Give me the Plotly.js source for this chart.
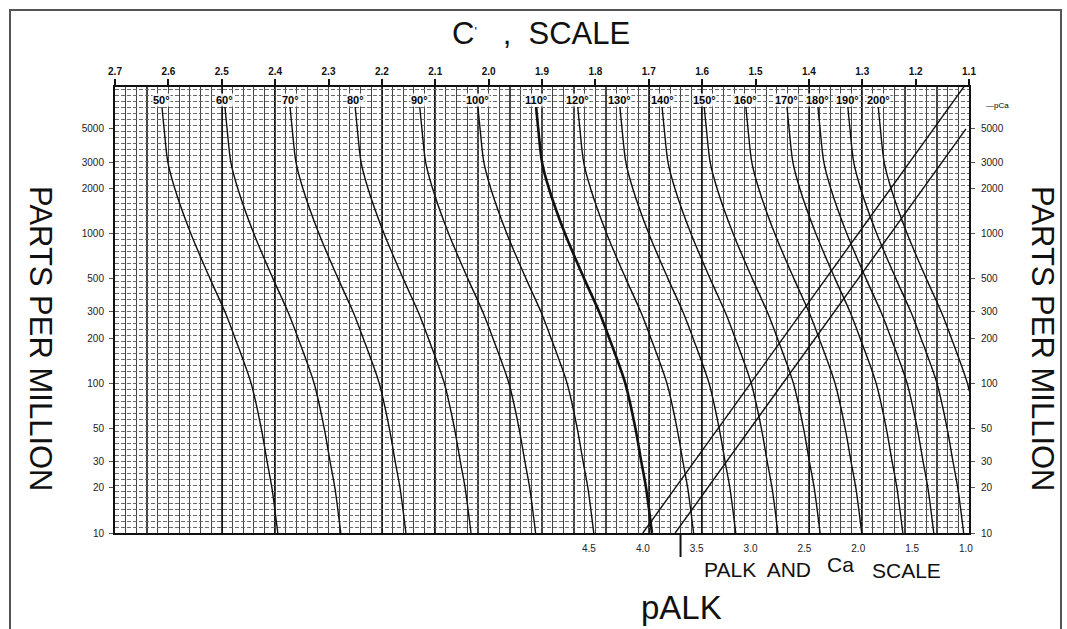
<!DOCTYPE html>
<html>
<head>
<meta charset="utf-8">
<script src="https://cdn.plot.ly/plotly-3.0.1.min.js"></script>
<style>html,body{margin:0;padding:0;background:#fff;}#chart{width:1067px;height:629px;}</style>
</head>
<body>
<div id="chart"></div>
<script>
const ppm = [7000, 5000, 3000, 2000, 1000, 500, 300, 200, 100, 50, 30, 20, 10];
const tempLabels = ['50°','60°','70°','80°','90°','100°','110°','120°','130°','140°','150°','160°','170°','180°','190°','200°'];
const c50  = [2.612, 2.608, 2.601, 2.588, 2.558, 2.522, 2.494, 2.475, 2.445, 2.426, 2.415, 2.406, 2.395];
const c60  = [2.494, 2.490, 2.483, 2.470, 2.440, 2.404, 2.376, 2.357, 2.327, 2.308, 2.297, 2.288, 2.277];
const c70  = [2.372, 2.368, 2.361, 2.348, 2.318, 2.282, 2.254, 2.235, 2.205, 2.186, 2.175, 2.166, 2.155];
const c80  = [2.250, 2.246, 2.239, 2.226, 2.196, 2.160, 2.132, 2.113, 2.083, 2.064, 2.053, 2.044, 2.033];
const c90  = [2.129, 2.125, 2.118, 2.105, 2.075, 2.039, 2.011, 1.992, 1.962, 1.943, 1.932, 1.923, 1.912];
const c100 = [2.020, 2.016, 2.009, 1.996, 1.966, 1.930, 1.902, 1.883, 1.853, 1.834, 1.823, 1.814, 1.803];
const c110 = [1.911, 1.907, 1.900, 1.887, 1.857, 1.821, 1.793, 1.774, 1.744, 1.725, 1.714, 1.705, 1.694];
const c120 = [1.833, 1.829, 1.822, 1.809, 1.779, 1.743, 1.715, 1.696, 1.666, 1.647, 1.636, 1.627, 1.616];
const c130 = [1.754, 1.750, 1.743, 1.730, 1.700, 1.664, 1.636, 1.617, 1.587, 1.568, 1.557, 1.548, 1.537];
const c140 = [1.675, 1.671, 1.664, 1.651, 1.621, 1.585, 1.557, 1.538, 1.508, 1.489, 1.478, 1.469, 1.458];
const c150 = [1.596, 1.592, 1.585, 1.572, 1.542, 1.506, 1.478, 1.459, 1.429, 1.410, 1.399, 1.390, 1.379];
const c160 = [1.518, 1.514, 1.507, 1.494, 1.464, 1.428, 1.400, 1.381, 1.351, 1.332, 1.321, 1.312, 1.301];
const c170 = [1.441, 1.437, 1.430, 1.417, 1.387, 1.351, 1.323, 1.304, 1.274, 1.255, 1.244, 1.235, 1.224];
const c180 = [1.383, 1.379, 1.372, 1.359, 1.329, 1.293, 1.265, 1.246, 1.216, 1.197, 1.186, 1.177, 1.166];
const c190 = [1.327, 1.323, 1.316, 1.303, 1.273, 1.237, 1.209, 1.190, 1.160, 1.141, 1.130, 1.121, 1.110];
const c200 = [1.270, 1.266, 1.259, 1.246, 1.216, 1.180, 1.152, 1.133, 1.103, 1.084, 1.073, 1.064, 1.053];
const cCurves = [c50,c60,c70,c80,c90,c100,c110,c120,c130,c140,c150,c160,c170,c180,c190,c200];
const boldCurve = '110°';

// pCa and pALK reference lines (p value vs ppm)
const pCaP = [4.0, 1.0];
const pCaPpm = [10, 10000];
const pAlkP = [3.7, 1.0];
const pAlkPpm = [10, 5000];
const pMarker = 3.65;

// tick labels
const cTicks = [2.7,2.6,2.5,2.4,2.3,2.2,2.1,2.0,1.9,1.8,1.7,1.6,1.5,1.4,1.3,1.2,1.1];
const cTickText = ['2.7','2.6','2.5','2.4','2.3','2.2','2.1','2.0','1.9','1.8','1.7','1.6','1.5','1.4','1.3','1.2','1.1'];
const pTicks = [4.5,4.0,3.5,3.0,2.5,2.0,1.5,1.0];
const pTickText = ['4.5','4.0','3.5','3.0','2.5','2.0','1.5','1.0'];
const ppmTicks = [10,20,30,50,100,200,300,500,1000,2000,3000,5000];
const ppmTickText = ['10','20','30','50','100','200','300','500','1000','2000','3000','5000'];

// ---- build ----
const ink = '#111';
const traces = [];
cCurves.forEach((c, i) => {
  traces.push({
    x: c, y: ppm, xaxis: 'x2', yaxis: 'y', type: 'scatter', mode: 'lines',
    line: {color: ink, width: tempLabels[i] === boldCurve ? 2.6 : 1.4, shape: 'spline', smoothing: 0.8},
    hoverinfo: 'skip', showlegend: false
  });
});
traces.push({x: pCaP, y: pCaPpm, xaxis: 'x', yaxis: 'y', mode: 'lines',
  line: {color: ink, width: 1.4}, hoverinfo: 'skip', showlegend: false});
traces.push({x: pAlkP, y: pAlkPpm, xaxis: 'x', yaxis: 'y', mode: 'lines',
  line: {color: ink, width: 1.4}, hoverinfo: 'skip', showlegend: false});
// dummy traces to register grid / right axes
traces.push({x: [null], y: [null], xaxis: 'x3', yaxis: 'y3', mode: 'lines', showlegend: false, hoverinfo: 'skip'});
traces.push({x: [null], y: [null], xaxis: 'x', yaxis: 'y2', mode: 'lines', showlegend: false, hoverinfo: 'skip'});

const W = 1067, H = 629, L = 115, R = 969, T = 87, B = 533;
const px = v => (v - L) / (R - L);
const py = v => (B - v) / (B - T);

const FAM = 'Liberation Sans, Arial, sans-serif';
const tickFont = {family: FAM, size: 10, color: '#222'};
const logRange = [1, 3.979];

const annotations = [];
cCurves.forEach((c, i) => {
  annotations.push({x: c[0], y: py(100), xref: 'x2', yref: 'paper', text: tempLabels[i],
    showarrow: false, font: {family: FAM, size: 11, color: '#000', weight: 'bold'},
    bgcolor: 'rgba(255,255,255,0.85)', borderpad: 0, xanchor: 'center', yanchor: 'middle'});
});
const bigFont = s => ({family: FAM, size: s, color: ink});
const txt = (x, y, text, size, extra) => Object.assign({x: px(x), y: py(y), xref: 'paper', yref: 'paper', text: text,
  showarrow: false, font: bigFont(size), xanchor: 'center', yanchor: 'middle'}, extra || {});
annotations.push(
  txt(541, 33, "C<span style=\"font-size:18px\"><sup>'</sup></span>   ,  SCALE", 31),
  txt(41, 339, 'PARTS PER MILLION', 31, {textangle: 90}),
  txt(1043, 339, 'PARTS PER MILLION', 31, {textangle: 90}),
  txt(757, 569, 'PALK  AND', 21),
  txt(840, 564, 'Ca', 21),
  txt(906, 570, 'SCALE', 21),
  txt(681, 607, 'pALK', 33),
  txt(997, 105, '—pCa', 8, {font: {family: FAM, size: 8, color: '#000'}})
);

const layout = {
  width: W, height: H,
  margin: {l: L, r: W - R, t: T, b: H - B, pad: 0},
  paper_bgcolor: '#fff', plot_bgcolor: '#fff',
  showlegend: false,
  xaxis: {range: [8.90, 0.972], tickmode: 'array', tickvals: pTicks, ticktext: pTickText,
    showgrid: false, zeroline: false, showline: true, linecolor: ink, linewidth: 2,
    ticks: '', ticklabelstandoff: 5, tickfont: tickFont, anchor: 'y', side: 'bottom'},
  xaxis2: {range: [2.7, 1.1], overlaying: 'x', anchor: 'y', side: 'top', tickmode: 'array',
    tickvals: cTicks, ticktext: cTickText, ticks: 'outside', ticklen: 6, tickwidth: 2, tickcolor: ink,
    showgrid: true, gridcolor: '#151515', gridwidth: 1.6, zeroline: false, showline: true, linecolor: ink, linewidth: 2,
    tickfont: {family: FAM, size: 10, color: ink, weight: 'bold'}},
  xaxis3: {range: [2.7, 1.1], overlaying: 'x', anchor: 'y', tickmode: 'linear', tick0: 1.1, dtick: 0.02,
    showgrid: true, gridcolor: '#444', gridwidth: 1.1, showticklabels: false, ticks: '', zeroline: false, showline: false},
  yaxis: {type: 'log', range: logRange, tickmode: 'array', tickvals: ppmTicks, ticktext: ppmTickText,
    ticks: 'outside', ticklen: 4, tickcolor: '#555', tickwidth: 1, ticklabelstandoff: 3,
    showgrid: false, zeroline: false, showline: true, linecolor: ink, linewidth: 2, tickfont: tickFont, anchor: 'x'},
  yaxis2: {type: 'log', range: logRange, overlaying: 'y', side: 'right', anchor: 'x', tickmode: 'array',
    tickvals: ppmTicks, ticktext: ppmTickText, ticks: 'outside', ticklen: 4, tickcolor: '#555', ticklabelstandoff: 4,
    showgrid: false, zeroline: false, showline: true, linecolor: ink, linewidth: 2, tickfont: tickFont},
  yaxis3: {type: 'log', range: logRange, overlaying: 'y', anchor: 'x', tickmode: 'linear', tick0: 1, dtick: 0.04,
    showgrid: true, gridcolor: '#6a6a6a', gridwidth: 1, griddash: '4px,2px', showticklabels: false, ticks: '', zeroline: false},
  annotations: annotations,
  shapes: [
    {type: 'rect', xref: 'paper', yref: 'paper', x0: px(10), x1: px(1061), y0: py(660), y1: py(10),
      line: {color: '#555', width: 2}, fillcolor: 'rgba(0,0,0,0)', layer: 'below'},
    {type: 'line', xref: 'x', yref: 'paper', x0: pMarker, x1: pMarker, y0: 0, y1: py(557),
      line: {color: ink, width: 2}}
  ]
};

Plotly.newPlot('chart', traces, layout, {staticPlot: true, displayModeBar: false});
</script>
</body>
</html>
